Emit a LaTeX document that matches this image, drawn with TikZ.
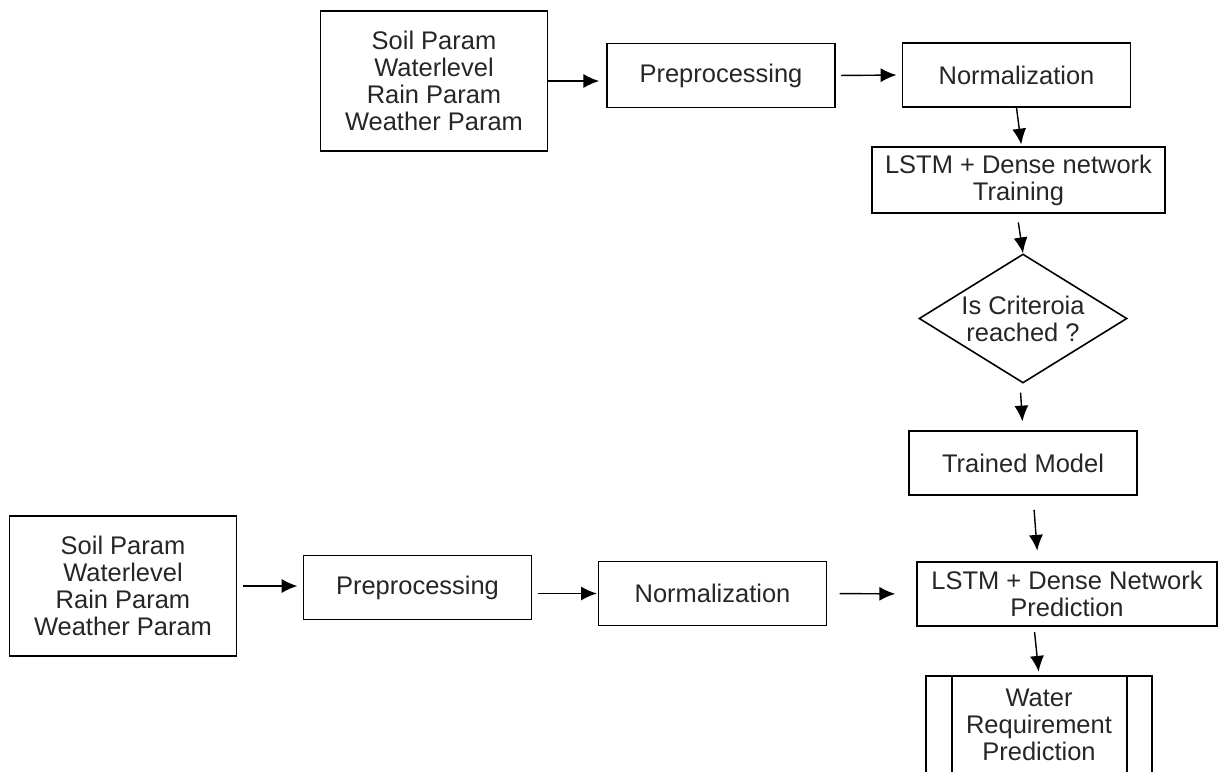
\documentclass[tikz,border=0pt]{standalone}
\usepackage{fontspec}
\setmainfont{Liberation Sans}
\usetikzlibrary{arrows.meta, shapes.geometric}

\begin{document}
\begin{tikzpicture}[x=0.02cm, y=-0.02cm, >={Latex[length=9pt,width=8pt]}, line width=0.9pt,
    box/.style={rectangle, draw, align=center, text=black!85, inner sep=0pt,
      font=\fontsize{14.5}{15.3}\selectfont},
    inbox/.style={box, minimum width=4.54cm, minimum height=2.8cm},
    stepbox/.style={box, minimum width=4.56cm, minimum height=1.28cm},
    decide/.style={box, diamond, aspect=1.6, minimum width=4.16cm, minimum height=2.58cm},
    arr/.style={->, line width=0.8pt, shorten <=3pt, shorten >=3pt}]
  \clip (0,0) rectangle (1220,771);

  \node[inbox] (in1) at (434,81) {Soil Param\\Waterlevel\\Rain Param\\Weather Param};
  \node[stepbox] (pre1) at (721,75.5) {Preprocessing};
  \node[stepbox] (norm1) at (1016.5,75) {Normalization};
  \node[box, minimum width=5.86cm, minimum height=1.32cm] (train) at (1018.5,180) {LSTM + Dense network\\Training};
  \node[decide] (crit) at (1023,318.5) {Is Criteroia\\reached ?};
  \node[stepbox] (model) at (1023,463) {Trained Model};

  \node[inbox] (in2) at (123,586) {Soil Param\\Waterlevel\\Rain Param\\Weather Param};
  \node[stepbox] (pre2) at (417.5,587.5) {Preprocessing};
  \node[stepbox] (norm2) at (712.5,593.5) {Normalization};
  \node[box, minimum width=6cm, minimum height=1.28cm] (pred) at (1067,594) {LSTM + Dense Network\\Prediction};
  \node[box, minimum width=4.52cm, minimum height=1.96cm] (out) at (1039,725) {Water\\Requirement\\Prediction};
  \draw ([xshift=0.54cm]out.north west) -- ([xshift=0.54cm]out.south west);
  \draw ([xshift=-0.52cm]out.north east) -- ([xshift=-0.52cm]out.south east);

  \draw[arr, shorten <=0pt, shorten >=4pt] (in1.east) -- (in1.east -| pre1.west);
  \draw[arr] (pre1.east) -- (norm1.west);
  \draw[arr, shorten <=0pt, shorten >=1pt] (norm1.south) -- ([xshift=0.06cm]train.north);
  \draw[arr, shorten <=5pt, shorten >=0pt] ([xshift=-0.03cm]train.south) -- (crit.north);
  \draw[arr, shorten <=5pt, shorten >=5pt] ([xshift=-0.06cm]crit.south) -- (model.north);
  \draw[arr, shorten <=8pt, shorten >=6pt] ([xshift=0.2cm]model.south) -- ([xshift=-0.58cm]pred.north);
  \draw[arr, shorten <=3pt, shorten >=2pt] ([xshift=-0.66cm]pred.south) -- ([xshift=0cm]out.north);

  \draw[arr] (in2.east) -- (in2.east -| pre2.west);
  \draw[arr, shorten >=0.5pt] (pre2.east |- norm2.west) -- (norm2.west);
  \draw[arr, shorten <=7pt, shorten >=12pt] (norm2.east) -- (pred.west);
\end{tikzpicture}
\end{document}
